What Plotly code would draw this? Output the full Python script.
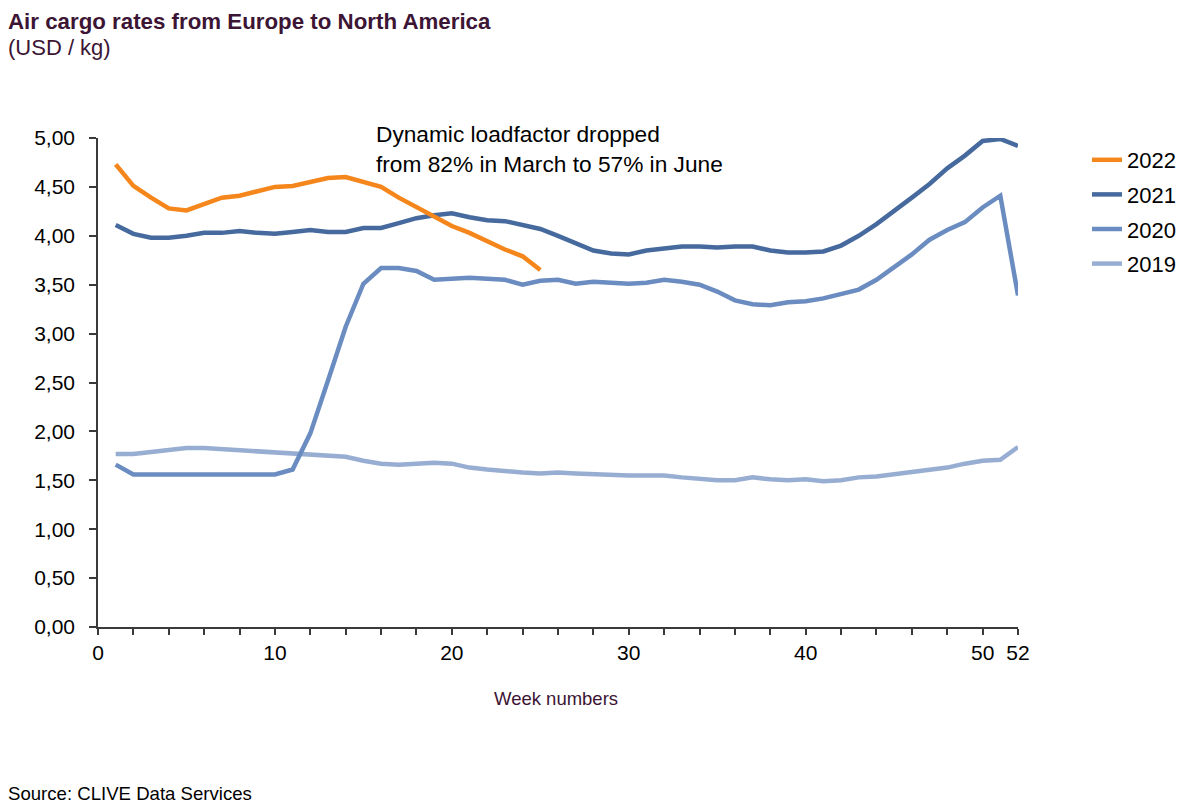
import plotly.graph_objects as go

weeks = list(range(1, 53))

rates_2022 = [4.73, 4.51, 4.39, 4.28, 4.26, 4.33, 4.39, 4.41, 4.46, 4.50,
              4.51, 4.55, 4.59, 4.60, 4.55, 4.50, 4.39, 4.29, 4.20, 4.10,
              4.03, 3.94, 3.86, 3.79, 3.65]

rates_2021 = [4.11, 4.02, 3.98, 3.98, 4.00, 4.03, 4.03, 4.05, 4.03, 4.02,
              4.04, 4.06, 4.04, 4.04, 4.08, 4.08, 4.13, 4.18, 4.21, 4.23,
              4.19, 4.16, 4.15, 4.11, 4.07, 4.00, 3.92, 3.85, 3.82, 3.81,
              3.85, 3.87, 3.89, 3.89, 3.88, 3.89, 3.89, 3.85, 3.83, 3.83,
              3.84, 3.90, 4.00, 4.12, 4.25, 4.39, 4.53, 4.69, 4.82, 4.97,
              4.99, 4.92]

rates_2020 = [1.66, 1.56, 1.56, 1.56, 1.56, 1.57, 1.57, 1.57, 1.56, 1.56,
              1.61, 1.98, 2.52, 3.07, 3.51, 3.67, 3.67, 3.64, 3.55, 3.56,
              3.57, 3.56, 3.55, 3.50, 3.54, 3.55, 3.51, 3.53, 3.52, 3.51,
              3.52, 3.55, 3.53, 3.50, 3.43, 3.34, 3.30, 3.29, 3.32, 3.33,
              3.36, 3.41, 3.45, 3.55, 3.68, 3.81, 3.96, 4.06, 4.14, 4.29,
              4.41, 3.39]

rates_2019 = [1.77, 1.77, 1.79, 1.81, 1.83, 1.83, 1.82, 1.80, 1.80, 1.79,
              1.77, 1.76, 1.76, 1.74, 1.70, 1.67, 1.66, 1.67, 1.68, 1.67,
              1.63, 1.61, 1.59, 1.58, 1.57, 1.58, 1.57, 1.56, 1.55, 1.55,
              1.55, 1.55, 1.53, 1.51, 1.50, 1.50, 1.53, 1.51, 1.50, 1.51,
              1.49, 1.50, 1.53, 1.54, 1.56, 1.59, 1.61, 1.63, 1.67, 1.70,
              1.71, 1.84]

series_names = ["2019", "2020", "2021", "2022"]
series_colors = ["#97aed2", "#6a8cc0", "#466a9e", "#f5861c"]
legend_ranks = [4, 3, 2, 1]

y_tickvals = [0, 0.5, 1.0, 1.5, 2.0, 2.5, 3.0, 3.5, 4.0, 4.5, 5.0]
y_ticktext = ["0,00", "0,50", "1,00", "1,50", "2,00", "2,50", "3,00",
              "3,50", "4,00", "4,50", "5,00"]
x_tickvals = list(range(0, 53, 2))
x_labelled = {0: "0", 10: "10", 20: "20", 30: "30", 40: "40", 50: "50", 52: "52"}
x_ticktext = [x_labelled.get(v, "") for v in x_tickvals]

FONT = "Arial, Liberation Sans, sans-serif"
PURPLE = "#3c1434"

# plot area in pixels
L, R, T, B = 98, 1018, 138, 627
W, H = 1200, 809


def px_x(px):
    return (px - L) / (R - L)


def px_y(py):
    return (B - py) / (B - T)


fig = go.Figure()
all_series = [rates_2019, rates_2020, rates_2021, rates_2022]
for name, color, vals, rank in zip(series_names, series_colors, all_series, legend_ranks):
    fig.add_trace(go.Scatter(
        x=weeks[:len(vals)], y=vals, mode="lines", name=name,
        legendgroup=name, legendrank=rank,
        line=dict(color=color, width=4.5),
    ))

fig.update_layout(
    width=W, height=H,
    margin=dict(l=L, r=W - R, t=T, b=H - B),
    paper_bgcolor="white", plot_bgcolor="white",
    font=dict(family=FONT, color="black", size=21),
    showlegend=True,
    legend=dict(
        x=px_x(1087), y=px_y(139), xanchor="left", yanchor="top",
        traceorder="grouped", tracegroupgap=3,
        font=dict(size=22, color="black"),
        bgcolor="rgba(0,0,0,0)",
    ),
    xaxis=dict(
        range=[0, 52], tickvals=x_tickvals, ticktext=x_ticktext,
        showgrid=False, zeroline=False, showline=True,
        linecolor="#3a3a3a", linewidth=1.5,
        ticks="outside", ticklen=6, tickwidth=1.5, tickcolor="#3a3a3a",
        tickfont=dict(size=21, color="black"),
    ),
    yaxis=dict(
        range=[0, 5], tickvals=y_tickvals, ticktext=y_ticktext,
        showgrid=False, zeroline=False, showline=True,
        linecolor="#3a3a3a", linewidth=1.5,
        ticks="outside", ticklen=7, tickwidth=1.5, tickcolor="#3a3a3a",
        tickfont=dict(size=21, color="black"),
        ticklabelstandoff=10,
    ),
)

annotations = [
    dict(text="<b>Air cargo rates from Europe to North America</b>",
         x=px_x(6), y=px_y(22), font=dict(size=22.3, color=PURPLE)),
    dict(text="(USD / kg)",
         x=px_x(6), y=px_y(48), font=dict(size=22, color=PURPLE)),
    dict(text="Dynamic loadfactor dropped<br>from 82% in March to 57% in June",
         x=px_x(374), y=px_y(149), font=dict(size=22.7, color="black")),
    dict(text="Source: CLIVE Data Services",
         x=px_x(6), y=px_y(793), font=dict(size=18.6, color="black")),
    dict(text="Week numbers",
         x=px_x(556), y=px_y(698), xanchor="center",
         font=dict(size=18.5, color=PURPLE)),
]
for a in annotations:
    a.setdefault("xanchor", "left")
    fig.add_annotation(xref="paper", yref="paper", yanchor="middle",
                       showarrow=False, align="left", **a)

fig.write_html(
    "out.html",
    config={"displayModeBar": False},
    post_script="document.body.style.margin='0';document.body.style.padding='0';",
)
